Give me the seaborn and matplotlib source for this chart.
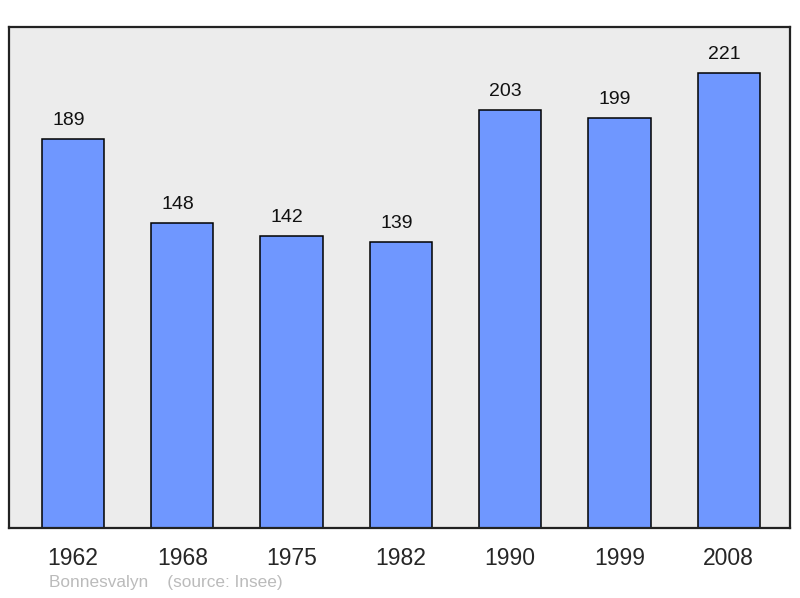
import matplotlib
matplotlib.use('Agg')
import matplotlib.pyplot as plt
import seaborn as sns
import pandas as pd

years = ['1962', '1968', '1975', '1982', '1990', '1999', '2008']
population = [189, 148, 142, 139, 203, 199, 221]
commune = 'Bonnesvalyn'
source = '(source: Insee)'

sns.set_style('white')
plt.rcParams['font.family'] = ['Liberation Sans', 'DejaVu Sans']

df = pd.DataFrame({'year': years, 'pop': population})

fig = plt.figure(figsize=(8, 5.98), dpi=100)
ax = fig.add_axes([9 / 800, 1 - 528 / 598, 781 / 800, 501 / 598])
ax.set_facecolor('#ececec')

sns.barplot(data=df, x='year', y='pop', ax=ax, color='#6f97ff', saturation=1,
            width=0.57, edgecolor='black', linewidth=1.1)

# value labels sit a bit left of the bar centre, like the original
for i, v in enumerate(population):
    ax.annotate(str(v), xy=(i, v), xytext=(-3.3, 10), textcoords='offset points',
                ha='center', va='baseline', fontsize=14, color='#111111')

ax.set_xlim(-0.585, 6.56)
ax.set_ylim(0, 243.3)
ax.set_yticks([])
ax.set_xlabel('')
ax.set_ylabel('')
ax.tick_params(axis='x', length=0, pad=14, labelsize=16.5)
for s in ax.spines.values():
    s.set_visible(True)
    s.set_color('#222222')
    s.set_linewidth(1.6)

fig.text(49 / 800, 1 - 583 / 598, commune + '    ' + source, ha='left', va='center',
         fontsize=12.4, color='#bbbbbb')

fig.savefig('out.png', dpi=100, facecolor='white')
